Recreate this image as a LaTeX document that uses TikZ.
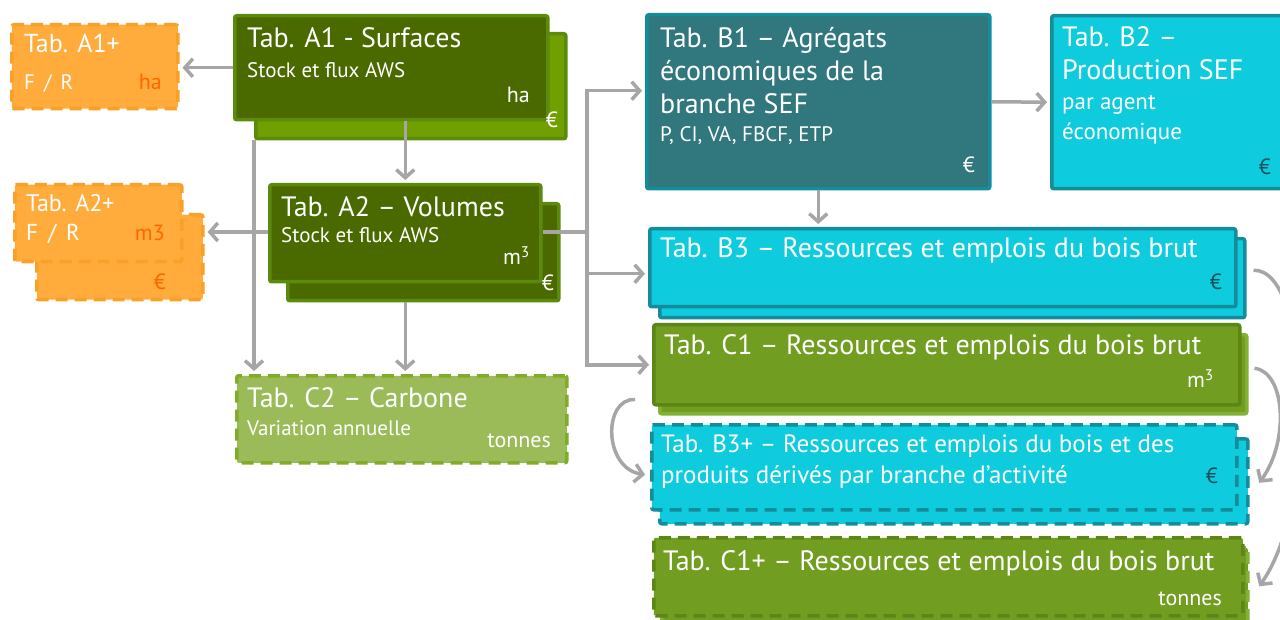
\documentclass[tikz,border=0pt]{standalone}
\usepackage{fontspec}
\setmainfont{PT Sans}
\usetikzlibrary{arrows.meta, positioning, calc}
\definecolor{darkgreen}{RGB}{74, 106, 0}
\definecolor{darkgreenline}{RGB}{92, 138, 12}
\definecolor{lightgreen}{RGB}{112, 160, 0}
\definecolor{olive}{RGB}{113, 157, 33}
\definecolor{oliveline}{RGB}{92, 134, 22}
\definecolor{oliveback}{RGB}{132, 176, 52}
\definecolor{carbon}{RGB}{155, 187, 89}
\definecolor{carbonline}{RGB}{128, 172, 40}
\definecolor{orangefill}{RGB}{255, 172, 60}
\definecolor{orangeline}{RGB}{250, 160, 40}
\definecolor{orangetext}{RGB}{255, 102, 0}
\definecolor{tealdark}{RGB}{49, 119, 126}
\definecolor{tealline}{RGB}{20, 140, 155}
\definecolor{cyanfill}{RGB}{14, 204, 221}
\definecolor{eurodark}{RGB}{18, 82, 92}
\definecolor{arrowgray}{RGB}{166, 166, 166}
\tikzstyle{tab_box} = [rectangle, inner sep=0pt, anchor=north west, line width=3.5pt, rounded corners=2pt]
\tikzstyle{dash_box} = [tab_box, dash pattern=on 12pt off 7pt]
\tikzstyle{title_txt} = [font=\fontsize{28}{33}\selectfont, text=white, anchor=base west, inner sep=0pt, align=left]
\tikzstyle{sub_txt} = [font=\fontsize{21}{30}\selectfont, text=white, anchor=base west, inner sep=0pt, align=left]
\tikzstyle{unit_txt} = [font=\fontsize{22}{24}\selectfont, text=white, anchor=base east, inner sep=0pt]
\tikzstyle{arrow} = [line width=3.5pt, draw=arrowgray, -{Straight Barb[length=8pt, width=18pt]}, shorten >=3pt]

\begin{document}
\begin{tikzpicture}[x=1pt, y=-1pt]
\useasboundingbox (0,0) rectangle (1280,620);
\clip (0,0) rectangle (1280,620);

% A side: surfaces and volumes
\node[dash_box, fill=orangefill, draw=orangeline, minimum width=166pt, minimum height=84pt] (a1p) at (10,23) {};
\node[tab_box, fill=lightgreen, draw=darkgreenline, minimum width=310pt, minimum height=105pt] (a1back) at (254,32) {};
\node[tab_box, fill=darkgreen, draw=darkgreenline, minimum width=313pt, minimum height=104pt] (a1) at (233,14) {};
\node[dash_box, fill=orangefill, draw=orangeline, minimum width=166pt, minimum height=85pt] (a2pback) at (35,213) {};
\node[dash_box, fill=orangefill, draw=orangeline, minimum width=167pt, minimum height=77pt] (a2p) at (13,183) {};
\node[tab_box, fill=darkgreen, draw=darkgreenline, minimum width=271pt, minimum height=97pt] (a2back) at (286,202) {};
\node[tab_box, fill=darkgreen, draw=darkgreenline, minimum width=271pt, minimum height=97pt] (a2) at (268,183) {};
\node[dash_box, fill=carbon, draw=carbonline, minimum width=330pt, minimum height=87pt] (c2) at (235,374) {};

\node[title_txt, font=\fontsize{26}{33}\selectfont] at (24,53) {Tab. A1+};
\node[sub_txt] at (24,90) {F \,/\, R};
\node[unit_txt, text=orangetext] at (162,90) {ha};
\node[title_txt] at (247,48) {Tab. A1 - Surfaces};
\node[sub_txt] at (247,78) {Stock et flux AWS};
\node[unit_txt] at (530,103) {ha};
\node[unit_txt] at (558,128) {€};
\node[title_txt, font=\fontsize{24}{30}\selectfont] at (26,212) {Tab. A2+};
\node[sub_txt, font=\fontsize{23}{30}\selectfont] at (26,241) {F \,/\, R};
\node[unit_txt, text=orangetext] at (165,241) {m3};
\node[unit_txt, text=orangetext] at (166,290) {€};
\node[title_txt] at (281,217) {Tab. A2 – Volumes};
\node[sub_txt] at (281,243) {Stock et flux AWS};
\node[unit_txt] at (530,265) {m\textsuperscript{3}};
\node[unit_txt] at (554,291) {€};
\node[title_txt] at (247,407) {Tab. C2 – Carbone};
\node[sub_txt] at (247,435) {Variation annuelle};
\node[unit_txt] at (551,447) {tonnes};

% B and C side: economy and wood balances
\node[tab_box, fill=tealdark, draw=tealline, minimum width=343pt, minimum height=174pt] (b1) at (645,13) {};
\node[tab_box, fill=cyanfill, draw=tealline, minimum width=260pt, minimum height=173pt] (b2) at (1050,14) {};
\node[tab_box, fill=cyanfill, draw=tealline, minimum width=585pt, minimum height=79pt] (b3back) at (658,237) {};
\node[tab_box, fill=cyanfill, draw=tealline, minimum width=586pt, minimum height=78pt] (b3) at (648,227) {};
\node[tab_box, fill=olive, draw=oliveback, minimum width=587pt, minimum height=79pt] (c1back) at (658,333) {};
\node[tab_box, fill=olive, draw=oliveline, minimum width=586pt, minimum height=80pt] (c1) at (652,323) {};
\node[dash_box, fill=cyanfill, draw=tealline, minimum width=588pt, minimum height=85pt] (b3pback) at (658,437) {};
\node[dash_box, fill=cyanfill, draw=tealline, minimum width=585pt, minimum height=85pt] (b3p) at (650,423) {};
\node[dash_box, fill=olive, draw=oliveback, minimum width=586pt, minimum height=80pt] (c1pback) at (660,546) {};
\node[dash_box, fill=olive, draw=oliveline, minimum width=589pt, minimum height=78pt] (c1p) at (652,536) {};

% multi-line texts sit on the baseline of their last line
\node[title_txt] at (660,114) {Tab. B1 – Agrégats\\économiques de la\\branche SEF};
\node[sub_txt] at (660,142) {P, CI, VA, FBCF, ETP};
\node[unit_txt] at (975,173) {€};
\node[title_txt] at (1062,80) {Tab. B2 –\\Production SEF};
\node[sub_txt, font=\fontsize{23}{30}\selectfont] at (1062,140) {par agent\\économique};
\node[unit_txt, text=eurodark] at (1271,175) {€};
\node[title_txt] at (660,258) {Tab. B3 – Ressources et emplois du bois brut};
\node[unit_txt, text=eurodark] at (1222,290) {€};
\node[title_txt] at (664,355) {Tab. C1 – Ressources et emplois du bois brut};
\node[unit_txt] at (1214,388) {m\textsuperscript{3}};
\node[title_txt, font=\fontsize{25}{31}\selectfont] at (661,483) {Tab. B3+ – Ressources et emplois du bois et des\\produits dérivés par branche d’activité};
\node[unit_txt, text=eurodark] at (1218,483) {€};
\node[title_txt] at (663,570) {Tab. C1+ – Ressources et emplois du bois brut};
\node[unit_txt] at (1222,605) {tonnes};

% Arrows
\coordinate (split) at (587,232);
\draw[arrow] (a1.west) -- (a1.west -| a1p.east);
\draw[arrow] (a2.north |- a1.south) -- (a2.north);
\draw[arrow] (a2.west |- split) -- (a2pback.east |- split);
\draw[arrow] (a1back.south west) -- (a1back.south west |- c2.north);
\draw[arrow] (a2.south |- a2back.south) -- (a2.south |- c2.north);
\draw[line width=3.5pt, draw=arrowgray] (a2.east |- split) -- (split);
\draw[arrow] (split) |- ([yshift=11pt]b1.west);
\draw[arrow] (split) |- ([yshift=-6pt]b3.west);
\draw[arrow] (split) |- (c1.west);
\draw[arrow] (b1.south) -- (b1.south |- b3.north);
\draw[arrow] (b1.east) -- (b2.west);
\draw[arrow] ([xshift=-17pt, yshift=7pt]c1.south west) .. controls (603,398) and (603,468) .. ([xshift=-2pt, yshift=-8pt]b3p.west);
\draw[arrow] ([xshift=6pt, yshift=6pt]c1back.east) .. controls (1285,372) and (1290,440) .. ([xshift=8pt, yshift=-4pt]b3pback.east);
\draw[arrow] ([xshift=7pt, yshift=8pt]b3back.east) .. controls (1310,268) and (1320,500) .. ([xshift=8pt, yshift=-1pt]c1pback.east);

\end{tikzpicture}
\end{document}
